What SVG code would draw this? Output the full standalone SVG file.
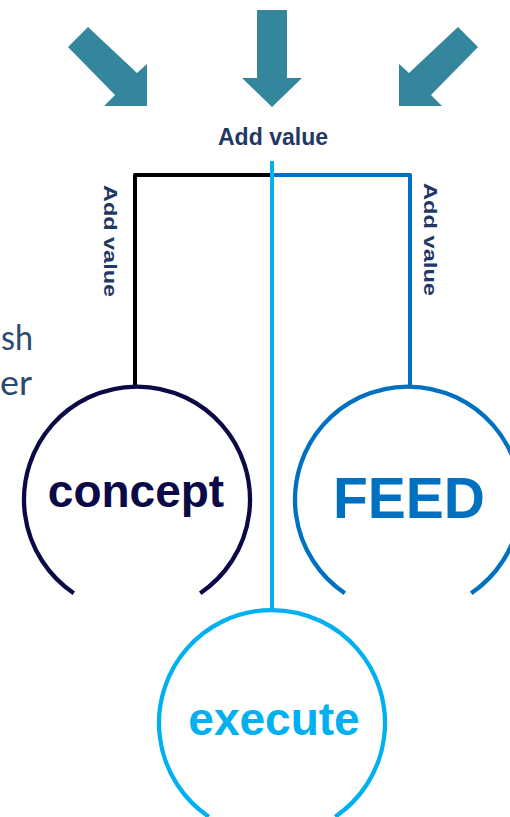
<svg xmlns="http://www.w3.org/2000/svg" width="510" height="817" viewBox="0 0 510 817">
<style>
.arrow{fill:#33869c}
.lbl{font-family:"Liberation Sans",Arial,sans-serif;font-weight:bold;fill:#1f3864}
.ring{fill:none;stroke-width:4.3}
.big{font-family:"Liberation Sans",Arial,sans-serif;font-weight:bold;text-anchor:middle}
.side{font-family:Lato,"Open Sans",sans-serif;font-weight:400;fill:#2b4a6f;font-size:34px}
</style>
<rect width="510" height="817" fill="#ffffff"/>
<g id="arrows">
<polygon class="arrow" points="88,27 137,73 147,64 147,106 104,106 115,95 68,47"/>
<polygon class="arrow" points="257,10 287,10 287,78 302,78 272,107 242,78 257,78"/>
<polygon class="arrow" points="458,27 409,73 399,64 399,106 442,106 431,95 478,47"/>
</g>
<g id="side-text">
<text class="side" x="1" y="350" textLength="32" lengthAdjust="spacingAndGlyphs">sh</text>
<text class="side" x="0" y="395" textLength="32" lengthAdjust="spacingAndGlyphs">er</text>
</g>
<g id="labels">
<text class="lbl" x="273" y="145" font-size="23" text-anchor="middle" textLength="110" lengthAdjust="spacingAndGlyphs">Add value</text>
<text class="lbl" font-size="18" transform="translate(104,185) rotate(90)" textLength="112" lengthAdjust="spacingAndGlyphs">Add value</text>
<text class="lbl" font-size="18" transform="translate(424,183) rotate(90)" textLength="113" lengthAdjust="spacingAndGlyphs">Add value</text>
</g>
<g id="connectors" fill="none" stroke-width="4">
<polyline points="272,175 135,175 135,386" stroke="#000000" stroke-linejoin="round"/>
<polyline points="272,175 410,175 410,386" stroke="#0070c0" stroke-linejoin="round"/>
<line x1="272" y1="161" x2="272" y2="610" stroke="#00b0f0"/>
</g>
<g id="node-concept">
<path class="ring" stroke="#0b0a46" d="M73.8,593.2 A113,113 0 1 1 200.2,593.2"/>
<text class="big" x="136" y="507" font-size="46" fill="#0b0a46">concept</text>
</g>
<g id="node-feed">
<path class="ring" stroke="#0070c0" d="M344.8,593.2 A113,113 0 1 1 471.2,593.2"/>
<text class="big" x="409" y="518" font-size="57" fill="#0070c0">FEED</text>
</g>
<g id="node-execute">
<path class="ring" stroke="#00b0f0" d="M208.8,816.7 A113,113 0 1 1 335.2,816.7"/>
<text class="big" x="274" y="735" font-size="46" fill="#00b0f0">execute</text>
</g>
</svg>
